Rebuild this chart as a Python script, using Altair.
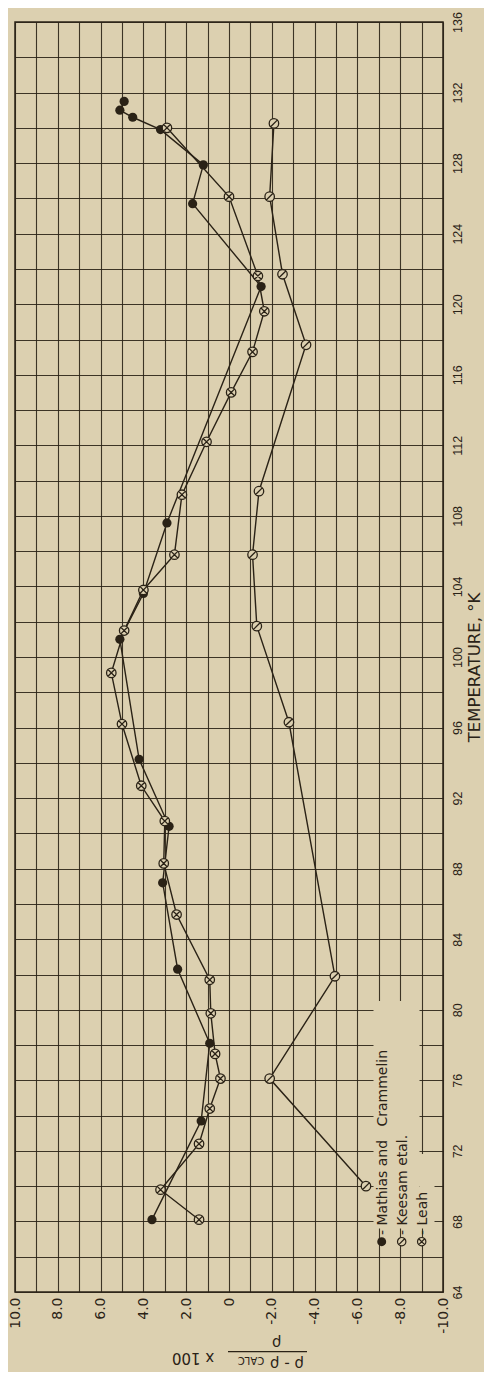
import altair as alt
import pandas as pd

BG = "#dcd0b0"
INK = "#2a2216"

# ---- data -------------------------------------------------------------------
mathias_T = [68.1, 73.7, 78.1, 82.3, 87.2, 90.4, 94.2, 101.0, 103.6, 107.6,
             121.0, 125.7, 127.9, 129.9, 130.6, 131.0, 131.5]
mathias_D = [3.6, 1.3, 0.9, 2.4, 3.1, 2.8, 4.2, 5.1, 4.0, 2.9,
             -1.5, 1.7, 1.2, 3.2, 4.5, 5.1, 4.9]

leah_T = [68.1, 69.8, 72.4, 74.4, 76.1, 77.5, 79.8, 81.7, 85.4, 88.3, 90.7,
          92.7, 96.2, 99.1, 101.5, 103.8, 105.8, 109.2, 112.2, 115.0, 117.3,
          119.6, 121.6, 126.1, 130.0]
leah_D = [1.4, 3.2, 1.4, 0.9, 0.4, 0.65, 0.85, 0.9, 2.45, 3.05, 3.0,
          4.1, 5.0, 5.5, 4.9, 4.0, 2.55, 2.2, 1.05, -0.1, -1.1,
          -1.65, -1.35, 0.0, 2.9]

keesam_T = [70.0, 76.1, 81.9, 96.3, 101.75, 105.8, 109.4, 117.7, 121.7, 126.1, 130.25]
keesam_D = [-6.4, -1.9, -4.95, -2.8, -1.3, -1.1, -1.4, -3.6, -2.5, -1.9, -2.1]

legend_labels = ["-\u00a0Mathias\u00a0and\u00a0\u00a0\u00a0Crammelin",
                 "-\u00a0Keesam\u00a0etal.", "-\u00a0Leah"]
x_ticks = list(range(-10, 11))
y_ticks = list(range(64, 137, 2))

# ---- frames ------------------------------------------------------------------
def frame(name, T, D):
    return pd.DataFrame({"series": name, "T": T, "D": D})

mathias = frame("Mathias", mathias_T, mathias_D)
leah = frame("Leah", leah_T, leah_D)
keesam = frame("Keesam", keesam_T, keesam_D)
allser = pd.concat([mathias, leah, keesam], ignore_index=True)
one = pd.DataFrame({"a": [0]})

CIRCLE = "M-1,0A1,1,0,1,1,1,0A1,1,0,1,1,-1,0Z"
LEAH_SHAPE = CIRCLE + " M-0.7,-0.7L0.7,0.7 M-0.7,0.7L0.7,-0.7"
KEESAM_SHAPE = CIRCLE + " M-0.7,0.7L0.7,-0.7"

x_scale = alt.Scale(domain=[10, -10], nice=False, zero=False)
y_scale = alt.Scale(domain=[64, 136], nice=False, zero=False)

x_axis = alt.Axis(
    values=x_ticks,
    labelExpr="datum.value == 0 ? '0' : (datum.value % 2 == 0 ? (datum.value < 0 ? '-' : '') + format(abs(datum.value), '.1f') : '')",
    labelAngle=270, labelAlign="right", labelBaseline="middle",
    labelFont="DejaVu Sans", labelFontSize=14, labelColor=INK, labelPadding=5,
    labelOverlap=False, labelBound=False, labelFlush=False,
    ticks=False, domain=False, grid=True, gridColor=INK, gridWidth=1.1,
    gridOpacity=0.9, title=None,
)
y_axis = alt.Axis(
    orient="right", values=y_ticks,
    labelExpr="datum.value % 4 == 0 ? '' + datum.value : ''",
    labelAngle=270, labelAlign="center", labelBaseline="top",
    labelFont="Liberation Sans", labelFontSize=12.5, labelColor=INK, labelPadding=8,
    labelOverlap=False, labelBound=False, labelFlush=False,
    ticks=False, domain=False, grid=True, gridColor=INK, gridWidth=1.1,
    gridOpacity=0.9,
    title="TEMPERATURE, °K", titleAngle=270, titleBaseline="top",
    titleFont="DejaVu Sans", titleFontSize=16.5, titleFontWeight="normal",
    titleColor=INK, titlePadding=3, titleY=645,
)

X = alt.X("D:Q", scale=x_scale, axis=x_axis)
Y = alt.Y("T:Q", scale=y_scale, axis=y_axis)

base = alt.Chart(allser)

# area where the legend erased the grid
erase1 = alt.Chart(one).mark_rect(fill=BG).encode(
    x=alt.value(358.5), x2=alt.value(404.5), y=alt.value(979), y2=alt.value(1206.5))
erase2 = alt.Chart(one).mark_rect(fill=BG).encode(
    x=alt.value(404.5), x2=alt.value(419.5), y=alt.value(1132), y2=alt.value(1206.5))

lines = base.mark_line(color=INK, strokeWidth=1.4).encode(
    x=X, y=Y, order="T:Q", detail="series:N")

pts_m = alt.Chart(mathias).mark_point(shape="circle", filled=True, color=INK,
                                      size=85, opacity=1).encode(x=X, y=Y)
pts_k = alt.Chart(keesam).mark_point(shape=KEESAM_SHAPE, filled=True, fill=BG,
                                     stroke=INK, strokeWidth=1.3, size=90,
                                     opacity=1).encode(x=X, y=Y)
pts_l = alt.Chart(leah).mark_point(shape=LEAH_SHAPE, filled=True, fill=BG,
                                   stroke=INK, strokeWidth=1.3, size=90,
                                   opacity=1).encode(x=X, y=Y)

# legend
leg_sym_m = alt.Chart(one).mark_point(shape="circle", filled=True, color=INK, size=80,
                                      opacity=1).encode(x=alt.value(366.7), y=alt.value(1219.7))
leg_sym_k = alt.Chart(one).mark_point(shape=KEESAM_SHAPE, filled=True, fill=BG, stroke=INK,
                                      strokeWidth=1.2, size=70, opacity=1).encode(
    x=alt.value(386.7), y=alt.value(1219.7))
leg_sym_l = alt.Chart(one).mark_point(shape=LEAH_SHAPE, filled=True, fill=BG, stroke=INK,
                                      strokeWidth=1.2, size=70, opacity=1).encode(
    x=alt.value(406.7), y=alt.value(1219.7))

def leg_text(label, xpix):
    return alt.Chart(one).mark_text(angle=270, align="left", baseline="middle",
                                    font="DejaVu Sans", fontSize=14, color=INK).encode(
        x=alt.value(xpix), y=alt.value(1213), text=alt.value(label))

leg_t = [leg_text(legend_labels[0], 368), leg_text(legend_labels[1], 388),
         leg_text(legend_labels[2], 408)]

# upside-down axis title: (rho - rho_CALC) / rho  x 100
def t180(s, xpix, ypix, size):
    return alt.Chart(one).mark_text(angle=180, align="center", baseline="middle",
                                    font="DejaVu Sans", fontSize=size, color=INK).encode(
        x=alt.value(xpix), y=alt.value(ypix), text=alt.value(s))

ttl = [
    t180("ρ - ρ", 272, 1342, 15),
    t180("CALC", 236, 1338, 10),
    t180("ρ", 261.7, 1321, 15),
    t180("x 100", 178, 1335.5, 15),
]
bar = alt.Chart(one).mark_rule(color=INK, strokeWidth=1.3).encode(
    x=alt.value(213), x2=alt.value(292), y=alt.value(1329.7))

chart = alt.layer(
    erase1, erase2, lines, pts_m, pts_k, pts_l,
    leg_sym_m, leg_sym_k, leg_sym_l, *leg_t, *ttl, bar,
).properties(
    width=428, height=1270,
    autosize=alt.AutoSizeParams(type="none"),
    padding={"left": 7, "top": 14, "right": 41, "bottom": 80},
    background=BG,
).configure_view(
    stroke=INK, strokeWidth=1.5,
)

chart.save("out.html", embed_options={"renderer": "svg", "actions": False})
